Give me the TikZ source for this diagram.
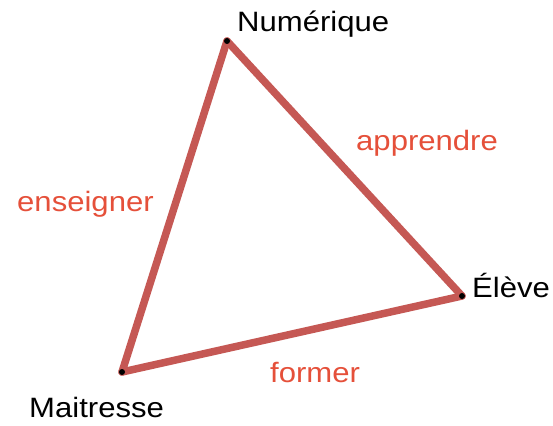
\documentclass[tikz,border=0pt]{standalone}
\usepackage{fontspec}
\setmainfont{Liberation Sans}
\definecolor{edgecol}{RGB}{197,88,84}
\definecolor{labcol}{RGB}{229,80,58}
\tikzset{
  edge/.style={draw=edgecol, line width=7.5pt, line cap=round, line join=round},
  vdot/.style={circle, fill=black, inner sep=0pt, minimum size=6pt},
  vlabel/.style={anchor=base west, inner sep=0pt, text=black, font=\fontsize{28}{30}\selectfont},
  elabel/.style={anchor=base west, inner sep=0pt, text=labcol, font=\fontsize{28}{30}\selectfont},
}
\newcommand{\widetxt}[1]{\scalebox{1.11}[1]{#1}}
\begin{document}
\begin{tikzpicture}[x=1pt,y=-1pt]
\useasboundingbox (0,0) rectangle (553,425);
\coordinate (n) at (227,41);
\coordinate (e) at (462,296);
\coordinate (m) at (122,372);
\draw[edge] (n) -- (e);
\draw[edge] (e) -- (m);
\draw[edge] (m) -- (n);
\node[vdot] (nd) at (n) {};
\node[vdot] (ed) at (e) {};
\node[vdot] (md) at (m) {};
\node[vlabel] (ln) at (237,32) {\widetxt{Numérique}};
\node[vlabel] (le) at (472,297) {\widetxt{Élève}};
\node[vlabel] (lm) at (29,417) {\widetxt{Maitresse}};
\node[elabel] (la) at (356,150) {\widetxt{apprendre}};
\node[elabel] (ls) at (17,211) {\widetxt{enseigner}};
\node[elabel] (lf) at (270,382) {\widetxt{former}};
\end{tikzpicture}
\end{document}
